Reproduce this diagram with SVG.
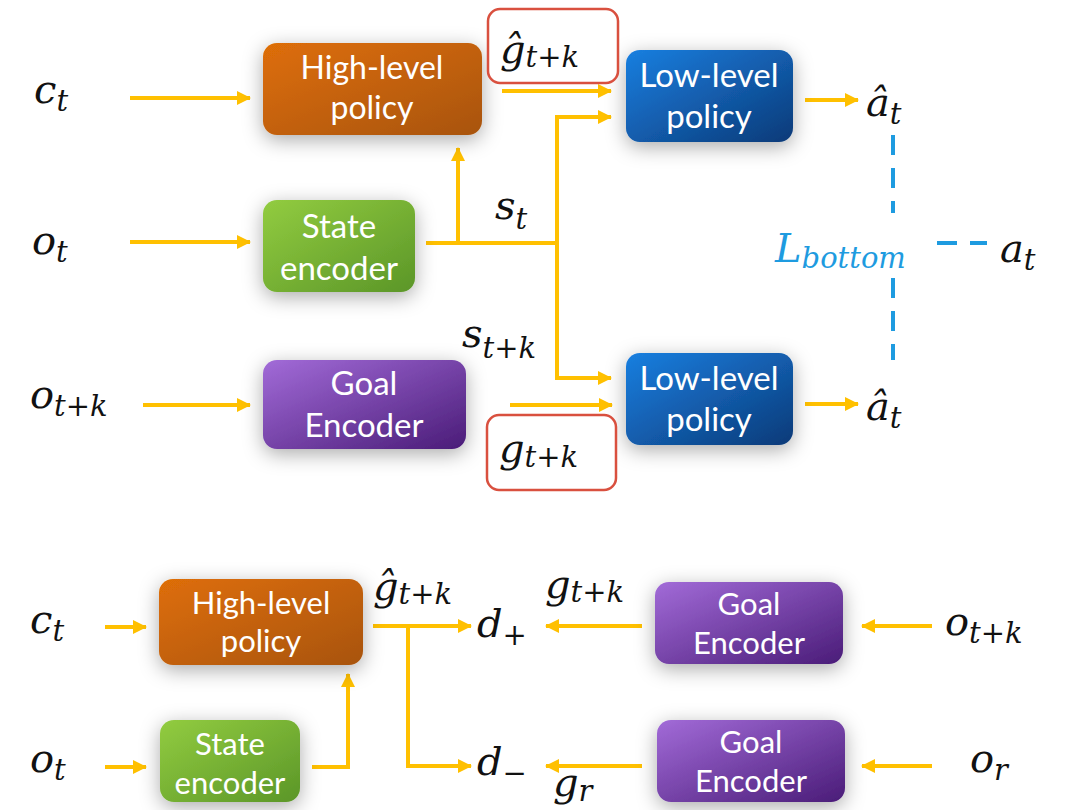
<svg xmlns="http://www.w3.org/2000/svg" width="1065" height="810" viewBox="0 0 1065 810">
<style>
.box text{font-family:Lato,"Open Sans",sans-serif;font-size:33px;fill:#fff;text-anchor:middle}
.box.sm text{font-size:31px}
.m{font-family:"DejaVu Serif",serif;font-style:italic;font-size:40px;fill:#111}
.s{font-size:29px}
.ar{stroke:#FFC000;stroke-width:4;fill:none}
.ah{marker-end:url(#ah)}
.dash{stroke:#1E9BE0;stroke-width:4;fill:none;stroke-dasharray:20 13}
.red{fill:#fff;stroke:#D9503F;stroke-width:2.5}
</style>
<defs>
<marker id="ah" markerUnits="userSpaceOnUse" markerWidth="16" markerHeight="16" refX="13" refY="7" orient="auto">
<path d="M0,0 L14,7 L0,14 z" fill="#FFC000"/>
</marker>
<filter id="sh" x="-30%" y="-40%" width="160%" height="190%">
<feDropShadow dx="0" dy="5" stdDeviation="10" flood-color="#000" flood-opacity="0.33"/>
</filter>
<linearGradient id="gO" x1="0" y1="0" x2="1" y2="1"><stop offset="0" stop-color="#DE6E06"/><stop offset="1" stop-color="#A8540F"/></linearGradient>
<linearGradient id="gB" x1="0" y1="0" x2="1" y2="1"><stop offset="0" stop-color="#1A7FE0"/><stop offset="1" stop-color="#0B3A78"/></linearGradient>
<linearGradient id="gG" x1="0" y1="0" x2="1" y2="1"><stop offset="0" stop-color="#92CC40"/><stop offset="1" stop-color="#5B9628"/></linearGradient>
<linearGradient id="gP" x1="0" y1="0" x2="1" y2="1"><stop offset="0" stop-color="#A26BD8"/><stop offset="1" stop-color="#4A1C78"/></linearGradient>
</defs>

<g id="connectors">
<line class="ar ah" x1="130" y1="98" x2="250" y2="98"/>
<line class="ar ah" x1="130" y1="242" x2="250" y2="242"/>
<line class="ar ah" x1="143" y1="405" x2="250" y2="405"/>
<line class="ar ah" x1="502" y1="91" x2="611" y2="91"/>
<polyline class="ar ah" points="426,243 557,243 557,117 611,117"/>
<polyline class="ar ah" points="557,243 557,378 611,378"/>
<line class="ar ah" x1="458" y1="243" x2="458" y2="148"/>
<line class="ar ah" x1="510" y1="405" x2="612" y2="405"/>
<line class="ar ah" x1="805" y1="100" x2="858" y2="100"/>
<line class="ar ah" x1="805" y1="404" x2="858" y2="404"/>
<polyline class="dash" points="893,135 893,213"/>
<polyline class="dash" points="893,278 893,360"/>
<line class="dash" x1="937" y1="243" x2="987" y2="243"/>

<line class="ar ah" x1="105" y1="627" x2="146" y2="627"/>
<line class="ar ah" x1="105" y1="767" x2="146" y2="767"/>
<polyline class="ar ah" points="312,767 348,767 348,674"/>
<line class="ar ah" x1="373" y1="626" x2="471" y2="626"/>
<polyline class="ar ah" points="408,626 408,766 471,766"/>
<line class="ar ah" x1="642" y1="626" x2="546" y2="626"/>
<line class="ar ah" x1="642" y1="766" x2="546" y2="766"/>
<line class="ar ah" x1="932" y1="626" x2="862" y2="626"/>
<line class="ar ah" x1="932" y1="766" x2="862" y2="766"/>
</g>

<g id="hl1" class="box"><rect x="263" y="43" width="219" height="92" rx="14" fill="url(#gO)" filter="url(#sh)"/><text x="372" y="79" style="font-size:32px">High-level</text><text x="372" y="119" style="font-size:32px">policy</text></g>
<g id="se1" class="box"><rect x="263" y="200" width="152" height="92" rx="14" fill="url(#gG)" filter="url(#sh)"/><text x="339" y="238">State</text><text x="339" y="280">encoder</text></g>
<g id="ge1" class="box"><rect x="263" y="360" width="203" height="89" rx="14" fill="url(#gP)" filter="url(#sh)"/><text x="364" y="395">Goal</text><text x="364" y="437">Encoder</text></g>
<g id="ll1" class="box"><rect x="626" y="50" width="167" height="92" rx="14" fill="url(#gB)" filter="url(#sh)"/><text x="709" y="87">Low-level</text><text x="709" y="128">policy</text></g>
<g id="ll2" class="box"><rect x="626" y="353" width="167" height="92" rx="14" fill="url(#gB)" filter="url(#sh)"/><text x="709" y="390">Low-level</text><text x="709" y="431">policy</text></g>

<g id="ghat1"><rect class="red" x="488" y="9" width="130" height="74" rx="12"/><text class="m" x="500" y="63">ĝ<tspan class="s" dy="4">t+k</tspan></text></g>
<g id="g1"><rect class="red" x="487" y="415" width="129" height="75" rx="12"/><text class="m" x="499" y="462">g<tspan class="s" dy="5">t+k</tspan></text></g>

<g id="labels">
<text class="m" x="34" y="103">c<tspan class="s" dy="8">t</tspan></text>
<text class="m" x="32" y="254">o<tspan class="s" dy="8">t</tspan></text>
<text class="m" x="30" y="408">o<tspan class="s" dy="8">t+k</tspan></text>
<text class="m" x="495" y="219">s<tspan class="s" dy="10">t</tspan></text>
<text class="m" x="462" y="347">s<tspan class="s" dy="11">t+k</tspan></text>
<text class="m" x="866" y="116">â<tspan class="s" dy="8">t</tspan></text>
<text class="m" x="866" y="420">â<tspan class="s" dy="8">t</tspan></text>
<text class="m" x="1000" y="262">a<tspan class="s" dy="8">t</tspan></text>
<text class="m" x="775" y="262" style="fill:#1E9BE0">L<tspan class="s" dy="6">bottom</tspan></text>

<text class="m" x="30" y="633">c<tspan class="s" dy="8">t</tspan></text>
<text class="m" x="30" y="772">o<tspan class="s" dy="8">t</tspan></text>
<text class="m" x="373" y="600">ĝ<tspan class="s" dy="4">t+k</tspan></text>
<text class="m" x="477" y="637">d<tspan class="s" dy="8">+</tspan></text>
<text class="m" x="477" y="775">d<tspan class="s" dy="8">−</tspan></text>
<text class="m" x="545" y="598">g<tspan class="s" dy="4">t+k</tspan></text>
<text class="m" x="553" y="796">g<tspan class="s" dy="5">r</tspan></text>
<text class="m" x="945" y="635">o<tspan class="s" dy="8">t+k</tspan></text>
<text class="m" x="970" y="772">o<tspan class="s" dy="8">r</tspan></text>
</g>

<g id="hl2" class="box sm"><rect x="159" y="579" width="204" height="86" rx="14" fill="url(#gO)" filter="url(#sh)"/><text x="261" y="614">High-level</text><text x="261" y="652">policy</text></g>
<g id="se2" class="box sm"><rect x="160" y="720" width="140" height="82" rx="14" fill="url(#gG)" filter="url(#sh)"/><text x="230" y="755">State</text><text x="230" y="794">encoder</text></g>
<g id="ge2" class="box sm"><rect x="655" y="582" width="188" height="82" rx="14" fill="url(#gP)" filter="url(#sh)"/><text x="749" y="615">Goal</text><text x="749" y="654">Encoder</text></g>
<g id="ge3" class="box sm"><rect x="657" y="720" width="188" height="82" rx="14" fill="url(#gP)" filter="url(#sh)"/><text x="751" y="753">Goal</text><text x="751" y="792">Encoder</text></g>
</svg>
